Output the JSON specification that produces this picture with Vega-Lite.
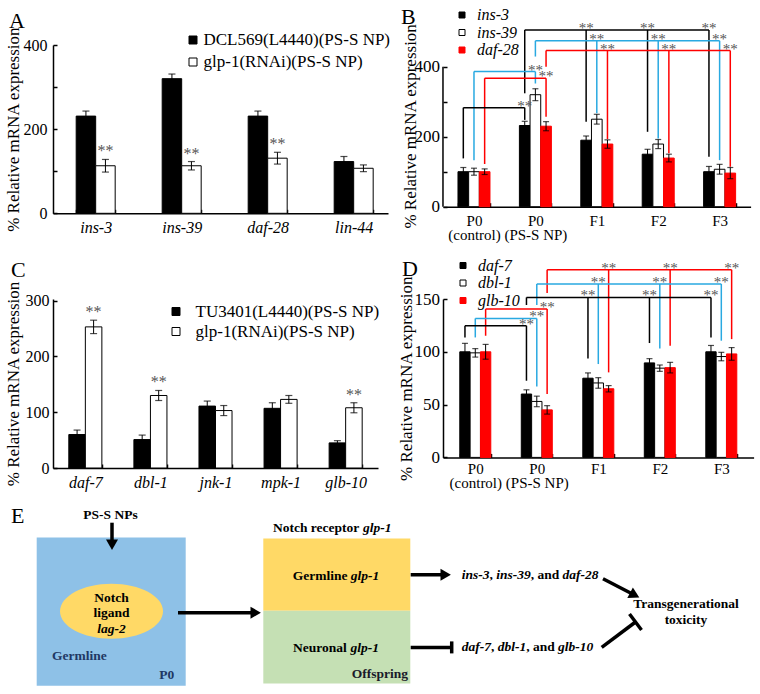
{
"$schema":"https://vega.github.io/schema/vega-lite/v6.json",
"padding":0,
"autosize":{"type":"pad"},
"background":"white",
"bounds":"flush",
"columns":2,
"spacing":{"row":85,"column":55},
"resolve":{"scale":{"fill":"independent","stroke":"independent","color":"independent","x":"independent","y":"independent","xOffset":"independent"},"legend":{"fill":"independent","stroke":"independent","color":"independent"}},
"config":{
 "view":{"stroke":null},
 "font":"Liberation Serif",
 "axis":{"labelFont":"Liberation Serif","titleFont":"Liberation Serif","labelFontSize":16,"titleFontSize":17,"titleFontWeight":"normal","labelColor":"black","titleColor":"black","domainColor":"black","tickColor":"black","domainWidth":1.5,"tickWidth":1.5,"tickSize":-4,"grid":false,"labelOverlap":false},
 "legend":{"labelFont":"Liberation Serif","labelFontSize":16,"labelColor":"black","padding":0,"labelLimit":400}
},
"concat":[
{
 "width":335,"height":168.3,
 "data":{"values":[
  {"gene":"ins-3","grp":"DCL569(L4440)(PS-S NP)","v":231,"lo":219,"hi":243,"sig":""},
  {"gene":"ins-3","grp":"glp-1(RNAi)(PS-S NP)","v":113,"lo":98,"hi":128,"sig":"**"},
  {"gene":"ins-39","grp":"DCL569(L4440)(PS-S NP)","v":320,"lo":309,"hi":331,"sig":""},
  {"gene":"ins-39","grp":"glp-1(RNAi)(PS-S NP)","v":113,"lo":103,"hi":123,"sig":"**"},
  {"gene":"daf-28","grp":"DCL569(L4440)(PS-S NP)","v":231,"lo":219,"hi":243,"sig":""},
  {"gene":"daf-28","grp":"glp-1(RNAi)(PS-S NP)","v":131,"lo":117,"hi":145,"sig":"**"},
  {"gene":"lin-44","grp":"DCL569(L4440)(PS-S NP)","v":123,"lo":111,"hi":135,"sig":""},
  {"gene":"lin-44","grp":"glp-1(RNAi)(PS-S NP)","v":107,"lo":99,"hi":115,"sig":""}
 ]},
 "encoding":{
  "x":{"field":"gene","type":"nominal","sort":["ins-3","ins-39","daf-28","lin-44"],"scale":{"paddingInner":0.5465,"paddingOuter":0.221,"align":0.61},"axis":{"title":null,"labelAngle":0,"labelFontStyle":"italic","tickBand":"extent","labelPadding":10}},
  "xOffset":{"field":"grp","type":"nominal","sort":["DCL569(L4440)(PS-S NP)","glp-1(RNAi)(PS-S NP)"]}
 },
 "layer":[
  {"mark":{"type":"bar","stroke":"black","strokeWidth":1},
   "encoding":{
    "y":{"field":"v","type":"quantitative","scale":{"domain":[0,400],"nice":false},"axis":{"title":"% Relative mRNA expression","values":[0,100,200,300,400],"labelExpr":"datum.value % 200 === 0 ? datum.label : ''","labelPadding":10,"titlePadding":1}},
    "fill":{"field":"grp","type":"nominal","scale":{"domain":["DCL569(L4440)(PS-S NP)","glp-1(RNAi)(PS-S NP)"],"range":["black","white"]},"legend":{"title":null,"orient":"none","legendX":131.5,"legendY":-13.5,"symbolType":"square","symbolSize":64,"symbolStrokeColor":"black","symbolStrokeWidth":1,"rowPadding":4,"labelOffset":2,"labelFontSize":17}}
   }},
  {"mark":{"type":"rule","color":"black","strokeWidth":1},"encoding":{"y":{"field":"lo","type":"quantitative","title":"% Relative mRNA expression"},"y2":{"field":"hi"}}},
  {"mark":{"type":"tick","color":"black","size":7,"thickness":1.2},"encoding":{"y":{"field":"lo","type":"quantitative","title":"% Relative mRNA expression"}}},
  {"mark":{"type":"tick","color":"black","size":7,"thickness":1.2},"encoding":{"y":{"field":"hi","type":"quantitative","title":"% Relative mRNA expression"}}},
  {"mark":{"type":"text","color":"#555555","fontSize":16,"baseline":"alphabetic","dy":-3},"encoding":{"y":{"field":"hi","type":"quantitative","title":"% Relative mRNA expression"},"text":{"field":"sig"}}}
 ]
},
{
 "width":307.6,"height":161.7,
 "layer":[
  {"data":{"name":"bvals"},"mark":{"type":"bar","strokeWidth":1},
   "encoding":{
    "x":{"field":"gen","type":"nominal","sort":["P0|(control)","P0|(PS-S NP)","F1","F2","F3"],"scale":{"paddingInner":0.479,"paddingOuter":0.244},"axis":{"title":null,"labelAngle":0,"labelFontSize":15,"labelLineHeight":14,"labelExpr":"split(datum.label, '|')","tickBand":"extent","labelPadding":10.5,"labelBaseline":"top"}},
    "xOffset":{"field":"gene","type":"nominal","sort":["ins-3","ins-39","daf-28"]},
    "y":{"field":"v","type":"quantitative","scale":{"domain":[0,462],"nice":false},"axis":{"title":"% Relative mRNA expression","values":[0,100,200,300,400],"labelExpr":"datum.value % 200 === 0 ? datum.label : ''","labelFontSize":17,"labelPadding":7.5,"titlePadding":-5,"domain":false}},
    "fill":{"field":"gene","type":"nominal","scale":{"domain":["ins-3","ins-39","daf-28"],"range":["black","white","#ff0000"]},"legend":{"title":null,"orient":"none","legendX":11,"legendY":-38,"symbolType":"square","symbolSize":36,"symbolStrokeColor":"black","symbolStrokeWidth":1,"rowPadding":1.5,"labelOffset":7,"labelFontStyle":"italic"}},
    "stroke":{"field":"gene","type":"nominal","scale":{"domain":["ins-3","ins-39","daf-28"],"range":["black","black","#ff0000"]},"legend":null}
   }},
  {"data":{"name":"bvals"},"mark":{"type":"rule","color":"black","strokeWidth":1},
   "encoding":{"x":{"field":"gen","type":"nominal","sort":["P0|(control)","P0|(PS-S NP)","F1","F2","F3"]},"xOffset":{"field":"gene","type":"nominal","sort":["ins-3","ins-39","daf-28"]},"y":{"field":"lo","type":"quantitative","title":"% Relative mRNA expression"},"y2":{"field":"hi"}}},
  {"data":{"name":"bvals"},"mark":{"type":"tick","color":"black","size":6,"thickness":1.2},
   "encoding":{"x":{"field":"gen","type":"nominal","sort":["P0|(control)","P0|(PS-S NP)","F1","F2","F3"]},"xOffset":{"field":"gene","type":"nominal","sort":["ins-3","ins-39","daf-28"]},"y":{"field":"lo","type":"quantitative","title":"% Relative mRNA expression"}}},
  {"data":{"name":"bvals"},"mark":{"type":"tick","color":"black","size":6,"thickness":1.2},
   "encoding":{"x":{"field":"gen","type":"nominal","sort":["P0|(control)","P0|(PS-S NP)","F1","F2","F3"]},"xOffset":{"field":"gene","type":"nominal","sort":["ins-3","ins-39","daf-28"]},"y":{"field":"hi","type":"quantitative","title":"% Relative mRNA expression"}}},
  {"data":{"name":"bbr"},"mark":{"type":"rule","strokeWidth":1.5},
   "encoding":{"x":{"field":"gen","type":"nominal","sort":["P0|(control)","P0|(PS-S NP)","F1","F2","F3"]},"xOffset":{"field":"gene","type":"nominal","sort":["ins-3","ins-39","daf-28"]},"y":{"field":"level","type":"quantitative","title":"% Relative mRNA expression"},"y2":{"field":"bottom"},
    "color":{"field":"gene","type":"nominal","scale":{"domain":["ins-3","ins-39","daf-28"],"range":["black","#29A9E1","#ff0000"]},"legend":null}}},
  {"data":{"name":"bbr"},"mark":{"type":"line","strokeWidth":1.5},
   "encoding":{"x":{"field":"gen","type":"nominal","sort":["P0|(control)","P0|(PS-S NP)","F1","F2","F3"]},"xOffset":{"field":"gene","type":"nominal","sort":["ins-3","ins-39","daf-28"]},"y":{"field":"level","type":"quantitative","title":"% Relative mRNA expression"},"detail":{"field":"id"},
    "color":{"field":"gene","type":"nominal","legend":null}}},
  {"data":{"name":"bbr"},"transform":[{"filter":"datum.role === 'end'"}],"mark":{"type":"text","text":"**","fontSize":15,"color":"#555555","baseline":"alphabetic","dy":3},
   "encoding":{"x":{"field":"gen","type":"nominal","sort":["P0|(control)","P0|(PS-S NP)","F1","F2","F3"]},"xOffset":{"field":"gene","type":"nominal","sort":["ins-3","ins-39","daf-28"]},"y":{"field":"level","type":"quantitative","title":"% Relative mRNA expression"}}},
  {"data":{"values":[{}]},"mark":{"type":"rule","color":"black","strokeWidth":1.5},
   "encoding":{"x":{"datum":"P0|(control)","type":"nominal","bandPosition":-0.469},"y":{"datum":0,"type":"quantitative"},"y2":{"datum":400}}}
 ]
},
{
 "width":325,"height":169,
 "data":{"values":[
  {"gene":"daf-7","grp":"TU3401(L4440)(PS-S NP)","v":60,"lo":52,"hi":68,"sig":""},
  {"gene":"daf-7","grp":"glp-1(RNAi)(PS-S NP)","v":253,"lo":241,"hi":265,"sig":"**"},
  {"gene":"dbl-1","grp":"TU3401(L4440)(PS-S NP)","v":51,"lo":43,"hi":59,"sig":""},
  {"gene":"dbl-1","grp":"glp-1(RNAi)(PS-S NP)","v":130,"lo":121,"hi":139,"sig":"**"},
  {"gene":"jnk-1","grp":"TU3401(L4440)(PS-S NP)","v":111,"lo":102,"hi":120,"sig":""},
  {"gene":"jnk-1","grp":"glp-1(RNAi)(PS-S NP)","v":103,"lo":94,"hi":112,"sig":""},
  {"gene":"mpk-1","grp":"TU3401(L4440)(PS-S NP)","v":107,"lo":97,"hi":117,"sig":""},
  {"gene":"mpk-1","grp":"glp-1(RNAi)(PS-S NP)","v":123,"lo":116,"hi":130,"sig":""},
  {"gene":"glb-10","grp":"TU3401(L4440)(PS-S NP)","v":45,"lo":41,"hi":49,"sig":""},
  {"gene":"glb-10","grp":"glp-1(RNAi)(PS-S NP)","v":108,"lo":99,"hi":117,"sig":"**"}
 ]},
 "encoding":{
  "x":{"field":"gene","type":"nominal","sort":["daf-7","dbl-1","jnk-1","mpk-1","glb-10"],"scale":{"paddingInner":0.492,"paddingOuter":0.243},"axis":{"title":null,"labelAngle":0,"labelFontStyle":"italic","tickBand":"extent","labelPadding":10}},
  "xOffset":{"field":"grp","type":"nominal","sort":["TU3401(L4440)(PS-S NP)","glp-1(RNAi)(PS-S NP)"]}
 },
 "layer":[
  {"mark":{"type":"bar","stroke":"black","strokeWidth":1},
   "encoding":{
    "y":{"field":"v","type":"quantitative","scale":{"domain":[0,303],"nice":false},"axis":{"title":"% Relative mRNA expression","values":[0,100,200,300],"labelPadding":8,"titlePadding":3}},
    "fill":{"field":"grp","type":"nominal","scale":{"domain":["TU3401(L4440)(PS-S NP)","glp-1(RNAi)(PS-S NP)"],"range":["black","white"]},"legend":{"title":null,"orient":"none","legendX":114.5,"legendY":4,"symbolType":"square","symbolSize":64,"symbolStrokeColor":"black","symbolStrokeWidth":1,"rowPadding":2,"labelOffset":11,"labelFontSize":17}}
   }},
  {"mark":{"type":"rule","color":"black","strokeWidth":1},"encoding":{"y":{"field":"lo","type":"quantitative","title":"% Relative mRNA expression"},"y2":{"field":"hi"}}},
  {"mark":{"type":"tick","color":"black","size":7,"thickness":1.2},"encoding":{"y":{"field":"lo","type":"quantitative","title":"% Relative mRNA expression"}}},
  {"mark":{"type":"tick","color":"black","size":7,"thickness":1.2},"encoding":{"y":{"field":"hi","type":"quantitative","title":"% Relative mRNA expression"}}},
  {"mark":{"type":"text","color":"#555555","fontSize":16,"baseline":"alphabetic","dy":-3},"encoding":{"y":{"field":"hi","type":"quantitative","title":"% Relative mRNA expression"},"text":{"field":"sig"}}}
 ]
},
{
 "width":310.6,"height":158.4,
 "layer":[
  {"data":{"name":"dvals"},"mark":{"type":"bar","strokeWidth":1},
   "encoding":{
    "x":{"field":"gen","type":"nominal","sort":["P0|(control)","P0|(PS-S NP)","F1","F2","F3"],"scale":{"paddingInner":0.496,"paddingOuter":0.273},"axis":{"title":null,"labelAngle":0,"labelFontSize":15,"labelLineHeight":14,"labelExpr":"split(datum.label, '|')","tickBand":"extent","labelPadding":8.5,"labelBaseline":"top"}},
    "xOffset":{"field":"gene","type":"nominal","sort":["daf-7","dbl-1","glb-10"]},
    "y":{"field":"v","type":"quantitative","scale":{"domain":[0,150],"nice":false},"axis":{"title":"% Relative mRNA expression","values":[0,50,100,150],"labelFontSize":17,"labelPadding":7.5,"titlePadding":-1}},
    "fill":{"field":"gene","type":"nominal","scale":{"domain":["daf-7","dbl-1","glb-10"],"range":["black","white","#ff0000"]},"legend":{"title":null,"orient":"none","legendX":12,"legendY":-41.5,"symbolType":"square","symbolSize":36,"symbolStrokeColor":"black","symbolStrokeWidth":1,"rowPadding":1.5,"labelOffset":7,"labelFontStyle":"italic"}},
    "stroke":{"field":"gene","type":"nominal","scale":{"domain":["daf-7","dbl-1","glb-10"],"range":["black","black","#ff0000"]},"legend":null}
   }},
  {"data":{"name":"dvals"},"mark":{"type":"rule","color":"black","strokeWidth":1},
   "encoding":{"x":{"field":"gen","type":"nominal","sort":["P0|(control)","P0|(PS-S NP)","F1","F2","F3"]},"xOffset":{"field":"gene","type":"nominal","sort":["daf-7","dbl-1","glb-10"]},"y":{"field":"lo","type":"quantitative","title":"% Relative mRNA expression"},"y2":{"field":"hi"}}},
  {"data":{"name":"dvals"},"mark":{"type":"tick","color":"black","size":6,"thickness":1.2},
   "encoding":{"x":{"field":"gen","type":"nominal","sort":["P0|(control)","P0|(PS-S NP)","F1","F2","F3"]},"xOffset":{"field":"gene","type":"nominal","sort":["daf-7","dbl-1","glb-10"]},"y":{"field":"lo","type":"quantitative","title":"% Relative mRNA expression"}}},
  {"data":{"name":"dvals"},"mark":{"type":"tick","color":"black","size":6,"thickness":1.2},
   "encoding":{"x":{"field":"gen","type":"nominal","sort":["P0|(control)","P0|(PS-S NP)","F1","F2","F3"]},"xOffset":{"field":"gene","type":"nominal","sort":["daf-7","dbl-1","glb-10"]},"y":{"field":"hi","type":"quantitative","title":"% Relative mRNA expression"}}},
  {"data":{"name":"dbr"},"mark":{"type":"rule","strokeWidth":1.5},
   "encoding":{"x":{"field":"gen","type":"nominal","sort":["P0|(control)","P0|(PS-S NP)","F1","F2","F3"]},"xOffset":{"field":"gene","type":"nominal","sort":["daf-7","dbl-1","glb-10"]},"y":{"field":"level","type":"quantitative","title":"% Relative mRNA expression"},"y2":{"field":"bottom"},
    "color":{"field":"gene","type":"nominal","scale":{"domain":["daf-7","dbl-1","glb-10"],"range":["black","#29A9E1","#ff0000"]},"legend":null}}},
  {"data":{"name":"dbr"},"mark":{"type":"line","strokeWidth":1.5},
   "encoding":{"x":{"field":"gen","type":"nominal","sort":["P0|(control)","P0|(PS-S NP)","F1","F2","F3"]},"xOffset":{"field":"gene","type":"nominal","sort":["daf-7","dbl-1","glb-10"]},"y":{"field":"level","type":"quantitative","title":"% Relative mRNA expression"},"detail":{"field":"id"},
    "color":{"field":"gene","type":"nominal","legend":null}}},
  {"data":{"name":"dbr"},"transform":[{"filter":"datum.role === 'end'"}],"mark":{"type":"text","text":"**","fontSize":15,"color":"#555555","baseline":"alphabetic","dy":3},
   "encoding":{"x":{"field":"gen","type":"nominal","sort":["P0|(control)","P0|(PS-S NP)","F1","F2","F3"]},"xOffset":{"field":"gene","type":"nominal","sort":["daf-7","dbl-1","glb-10"]},"y":{"field":"level","type":"quantitative","title":"% Relative mRNA expression"}}}
 ]
},
{
 "width":335,"height":141.7,
 "layer":[
  {"data":{"values":[{"x":0,"x2":760,"y":0,"y2":694}]},"mark":{"type":"rect","opacity":0},
   "encoding":{"x":{"field":"x","type":"quantitative","scale":{"domain":[53,388],"nice":false,"zero":false},"axis":null},"x2":{"field":"x2"},"y":{"field":"y","type":"quantitative","scale":{"domain":[552.3,694],"reverse":true,"nice":false,"zero":false},"axis":null},"y2":{"field":"y2"}}},
  {"data":{"name":"boxes"},"mark":{"type":"rect"},
   "encoding":{"x":{"field":"x","type":"quantitative"},"x2":{"field":"x2"},"y":{"field":"y","type":"quantitative"},"y2":{"field":"y2"},
    "fill":{"field":"k","type":"nominal","scale":{"domain":["p0","germ","neur"],"range":["#8EC1E7","#FFD966","#C5E0B4"]},"legend":null}}},
  {"data":{"values":[{"x":111.5,"y":610.5}]},"mark":{"type":"point","shape":"M-1,0A1,0.534,0,1,0,1,0A1,0.534,0,1,0,-1,0Z","filled":true,"size":10609,"color":"#FFD966","opacity":1,"strokeWidth":0},
   "encoding":{"x":{"field":"x","type":"quantitative"},"y":{"field":"y","type":"quantitative"}}},
  {"data":{"name":"shafts"},"mark":{"type":"rule","color":"black","strokeWidth":3.5},
   "encoding":{"x":{"field":"x","type":"quantitative"},"x2":{"field":"x2"},"y":{"field":"y","type":"quantitative"},"y2":{"field":"y2"}}},
  {"data":{"values":[{"x":112,"y":544}]},"mark":{"type":"point","shape":"triangle-down","filled":true,"size":144,"color":"black","opacity":1},
   "encoding":{"x":{"field":"x","type":"quantitative"},"y":{"field":"y","type":"quantitative"}}},
  {"data":{"values":[{"x":255.7,"y":612},{"x":445.7,"y":574}]},"mark":{"type":"point","shape":"triangle-right","filled":true,"size":144,"color":"black","opacity":1},
   "encoding":{"x":{"field":"x","type":"quantitative"},"y":{"field":"y","type":"quantitative"}}},
  {"data":{"values":[{"x":634.7,"y":594.5}]},"mark":{"type":"point","shape":"triangle-right","filled":true,"size":144,"color":"black","opacity":1,"angle":27.6},
   "encoding":{"x":{"field":"x","type":"quantitative"},"y":{"field":"y","type":"quantitative"}}},
  {"data":{"values":[{"t":"PS-S NPs","x":110.5,"y":514},{"t":"Notch","x":111.5,"y":597},{"t":"ligand","x":111.5,"y":612.5},{"t":"Transgenerational","x":686,"y":603},{"t":"toxicity","x":686,"y":619}]},
   "mark":{"type":"text","font":"Liberation Serif","fontSize":13.5,"fontWeight":"bold","baseline":"middle","align":"center","color":"black"},
   "encoding":{"x":{"field":"x","type":"quantitative"},"y":{"field":"y","type":"quantitative"},"text":{"field":"t"}}},
  {"data":{"values":[{"t":"lag-2","x":111.5,"y":628}]},
   "mark":{"type":"text","font":"Liberation Serif","fontSize":13.5,"fontWeight":"bold","fontStyle":"italic","baseline":"middle","align":"center","color":"black"},
   "encoding":{"x":{"field":"x","type":"quantitative"},"y":{"field":"y","type":"quantitative"},"text":{"field":"t"}}},
  {"data":{"values":[{"t":"Notch receptor ","x":273,"y":527},{"t":"Germline ","x":292.7,"y":575},{"t":"Neuronal ","x":293,"y":647},{"t":", ","x":489.5,"y":574},{"t":", and ","x":530.7,"y":574},{"t":", ","x":490.9,"y":646.7},{"t":", and ","x":526.2,"y":646.7}]},
   "mark":{"type":"text","font":"Liberation Serif","fontSize":13.5,"fontWeight":"bold","baseline":"middle","align":"left","color":"black"},
   "encoding":{"x":{"field":"x","type":"quantitative"},"y":{"field":"y","type":"quantitative"},"text":{"field":"t"}}},
  {"data":{"values":[{"t":"glp-1","x":363,"y":527},{"t":"glp-1","x":350.8,"y":575},{"t":"glp-1","x":350.4,"y":647},{"t":"ins-3","x":461.7,"y":574},{"t":"ins-39","x":496.2,"y":574},{"t":"daf-28","x":562.6,"y":574},{"t":"daf-7","x":461.7,"y":646.7},{"t":"dbl-1","x":497.7,"y":646.7},{"t":"glb-10","x":558.1,"y":646.7}]},
   "mark":{"type":"text","font":"Liberation Serif","fontSize":13.5,"fontWeight":"bold","fontStyle":"italic","baseline":"middle","align":"left","color":"black"},
   "encoding":{"x":{"field":"x","type":"quantitative"},"y":{"field":"y","type":"quantitative"},"text":{"field":"t"}}},
  {"data":{"values":[{"t":"Germline","x":52,"y":655},{"t":"P0","x":159.3,"y":674}]},
   "mark":{"type":"text","font":"Liberation Serif","fontSize":13.5,"fontWeight":"bold","baseline":"middle","align":"left","color":"#1F3864"},
   "encoding":{"x":{"field":"x","type":"quantitative"},"y":{"field":"y","type":"quantitative"},"text":{"field":"t"}}},
  {"data":{"values":[{"t":"Offspring","x":408,"y":673.5}]},
   "mark":{"type":"text","font":"Liberation Serif","fontSize":13.5,"fontWeight":"bold","baseline":"middle","align":"right","color":"#1a1a2a"},
   "encoding":{"x":{"field":"x","type":"quantitative"},"y":{"field":"y","type":"quantitative"},"text":{"field":"t"}}},
  {"data":{"values":[{"t":"A","x":9,"y":27},{"t":"B","x":401,"y":23},{"t":"C","x":11,"y":276.5},{"t":"D","x":402,"y":275},{"t":"E","x":11,"y":522}]},
   "mark":{"type":"text","font":"Liberation Serif","fontSize":22,"baseline":"alphabetic","align":"left","color":"black"},
   "encoding":{"x":{"field":"x","type":"quantitative"},"y":{"field":"y","type":"quantitative"},"text":{"field":"t"}}}
 ]
}
],
"datasets":{
 "bvals":[
  {"gen":"P0|(control)","gene":"ins-3","v":100,"lo":88,"hi":112},
  {"gen":"P0|(control)","gene":"ins-39","v":100,"lo":90,"hi":110},
  {"gen":"P0|(control)","gene":"daf-28","v":100,"lo":92,"hi":108},
  {"gen":"P0|(PS-S NP)","gene":"ins-3","v":232,"lo":220,"hi":244},
  {"gen":"P0|(PS-S NP)","gene":"ins-39","v":320,"lo":303,"hi":337},
  {"gen":"P0|(PS-S NP)","gene":"daf-28","v":230,"lo":217,"hi":243},
  {"gen":"F1","gene":"ins-3","v":190,"lo":178,"hi":202},
  {"gen":"F1","gene":"ins-39","v":250,"lo":236,"hi":264},
  {"gen":"F1","gene":"daf-28","v":179,"lo":167,"hi":191},
  {"gen":"F2","gene":"ins-3","v":150,"lo":136,"hi":164},
  {"gen":"F2","gene":"ins-39","v":179,"lo":166,"hi":192},
  {"gen":"F2","gene":"daf-28","v":139,"lo":128,"hi":150},
  {"gen":"F3","gene":"ins-3","v":100,"lo":85,"hi":115},
  {"gen":"F3","gene":"ins-39","v":107,"lo":93,"hi":121},
  {"gen":"F3","gene":"daf-28","v":96,"lo":80,"hi":112}
 ],
 "bbr":[
  {"id":"b1","gen":"P0|(control)","gene":"ins-3","level":283,"bottom":138,"role":"start"},
  {"id":"b1","gen":"P0|(PS-S NP)","gene":"ins-3","level":283,"bottom":248,"role":"end"},
  {"id":"b2","gen":"P0|(control)","gene":"ins-39","level":386,"bottom":133,"role":"start"},
  {"id":"b2","gen":"P0|(PS-S NP)","gene":"ins-39","level":386,"bottom":352,"role":"end"},
  {"id":"b3","gen":"P0|(control)","gene":"daf-28","level":367,"bottom":122,"role":"start"},
  {"id":"b3","gen":"P0|(PS-S NP)","gene":"daf-28","level":367,"bottom":257,"role":"end"},
  {"id":"b4","gen":"P0|(PS-S NP)","gene":"ins-3","level":505,"bottom":324,"role":"start"},
  {"id":"b4","gen":"F1","gene":"ins-3","level":505,"bottom":243,"role":"end"},
  {"id":"b4","gen":"F2","gene":"ins-3","level":505,"bottom":214,"role":"end"},
  {"id":"b4","gen":"F3","gene":"ins-3","level":505,"bottom":143,"role":"end"},
  {"id":"b5","gen":"P0|(PS-S NP)","gene":"ins-39","level":474,"bottom":429,"role":"start"},
  {"id":"b5","gen":"F1","gene":"ins-39","level":474,"bottom":267,"role":"end"},
  {"id":"b5","gen":"F2","gene":"ins-39","level":474,"bottom":195,"role":"end"},
  {"id":"b5","gen":"F3","gene":"ins-39","level":474,"bottom":133,"role":"end"},
  {"id":"b6","gen":"P0|(PS-S NP)","gene":"daf-28","level":446,"bottom":400,"role":"start"},
  {"id":"b6","gen":"F1","gene":"daf-28","level":446,"bottom":193,"role":"end"},
  {"id":"b6","gen":"F2","gene":"daf-28","level":446,"bottom":153,"role":"end"},
  {"id":"b6","gen":"F3","gene":"daf-28","level":446,"bottom":114,"role":"end"}
 ],
 "dvals":[
  {"gen":"P0|(control)","gene":"daf-7","v":100,"lo":92,"hi":108},
  {"gen":"P0|(control)","gene":"dbl-1","v":99,"lo":95,"hi":103},
  {"gen":"P0|(control)","gene":"glb-10","v":100,"lo":93,"hi":107},
  {"gen":"P0|(PS-S NP)","gene":"daf-7","v":60,"lo":56,"hi":64},
  {"gen":"P0|(PS-S NP)","gene":"dbl-1","v":53,"lo":48,"hi":58},
  {"gen":"P0|(PS-S NP)","gene":"glb-10","v":45,"lo":41,"hi":49},
  {"gen":"F1","gene":"daf-7","v":75,"lo":70,"hi":80},
  {"gen":"F1","gene":"dbl-1","v":70.5,"lo":65.5,"hi":75.5},
  {"gen":"F1","gene":"glb-10","v":65,"lo":62,"hi":68},
  {"gen":"F2","gene":"daf-7","v":89.5,"lo":85.5,"hi":93.5},
  {"gen":"F2","gene":"dbl-1","v":84.5,"lo":81.5,"hi":87.5},
  {"gen":"F2","gene":"glb-10","v":85,"lo":80,"hi":90},
  {"gen":"F3","gene":"daf-7","v":100,"lo":94,"hi":106},
  {"gen":"F3","gene":"dbl-1","v":95.5,"lo":91.5,"hi":99.5},
  {"gen":"F3","gene":"glb-10","v":98,"lo":92,"hi":104}
 ],
 "dbr":[
  {"id":"d1","gen":"P0|(control)","gene":"daf-7","level":124.7,"bottom":113.6,"role":"start"},
  {"id":"d1","gen":"P0|(PS-S NP)","gene":"daf-7","level":124.7,"bottom":72.6,"role":"end"},
  {"id":"d2","gen":"P0|(control)","gene":"dbl-1","level":131.6,"bottom":113.6,"role":"start"},
  {"id":"d2","gen":"P0|(PS-S NP)","gene":"dbl-1","level":131.6,"bottom":67.2,"role":"end"},
  {"id":"d3","gen":"P0|(control)","gene":"glb-10","level":140.5,"bottom":115.2,"role":"start"},
  {"id":"d3","gen":"P0|(PS-S NP)","gene":"glb-10","level":140.5,"bottom":60,"role":"end"},
  {"id":"d4","gen":"P0|(PS-S NP)","gene":"daf-7","level":151.5,"bottom":144.3,"role":"start"},
  {"id":"d4","gen":"F1","gene":"daf-7","level":151.5,"bottom":93.7,"role":"end"},
  {"id":"d4","gen":"F2","gene":"daf-7","level":151.5,"bottom":108.3,"role":"end"},
  {"id":"d4","gen":"F3","gene":"daf-7","level":151.5,"bottom":113.6,"role":"end"},
  {"id":"d5","gen":"P0|(PS-S NP)","gene":"dbl-1","level":164.2,"bottom":144.3,"role":"start"},
  {"id":"d5","gen":"F1","gene":"dbl-1","level":164.2,"bottom":88.4,"role":"end"},
  {"id":"d5","gen":"F2","gene":"dbl-1","level":164.2,"bottom":103.2,"role":"end"},
  {"id":"d5","gen":"F3","gene":"dbl-1","level":164.2,"bottom":110.5,"role":"end"},
  {"id":"d6","gen":"P0|(PS-S NP)","gene":"glb-10","level":177.7,"bottom":155.7,"role":"start"},
  {"id":"d6","gen":"F1","gene":"glb-10","level":177.7,"bottom":80.5,"role":"end"},
  {"id":"d6","gen":"F2","gene":"glb-10","level":177.7,"bottom":105.8,"role":"end"},
  {"id":"d6","gen":"F3","gene":"glb-10","level":177.7,"bottom":112,"role":"end"}
 ],
 "boxes":[
  {"k":"p0","x":36.7,"x2":185.7,"y":536.7,"y2":685},
  {"k":"germ","x":263.3,"x2":410.3,"y":537.7,"y2":610},
  {"k":"neur","x":263.3,"x2":410.3,"y":610,"y2":682.7}
 ],
 "shafts":[
  {"x":112,"y":522,"x2":112,"y2":541},
  {"x":178,"y":612,"x2":253,"y2":612},
  {"x":410.7,"y":574,"x2":443,"y2":574},
  {"x":410.7,"y":646.7,"x2":451.7,"y2":646.7},
  {"x":451.7,"y":640.7,"x2":451.7,"y2":652.7},
  {"x":603,"y":578,"x2":631,"y2":592.5},
  {"x":601.7,"y":646.7,"x2":635.5,"y2":621.3},
  {"x":629.5,"y":613.3,"x2":641.5,"y2":629.3}
 ]
}
}
